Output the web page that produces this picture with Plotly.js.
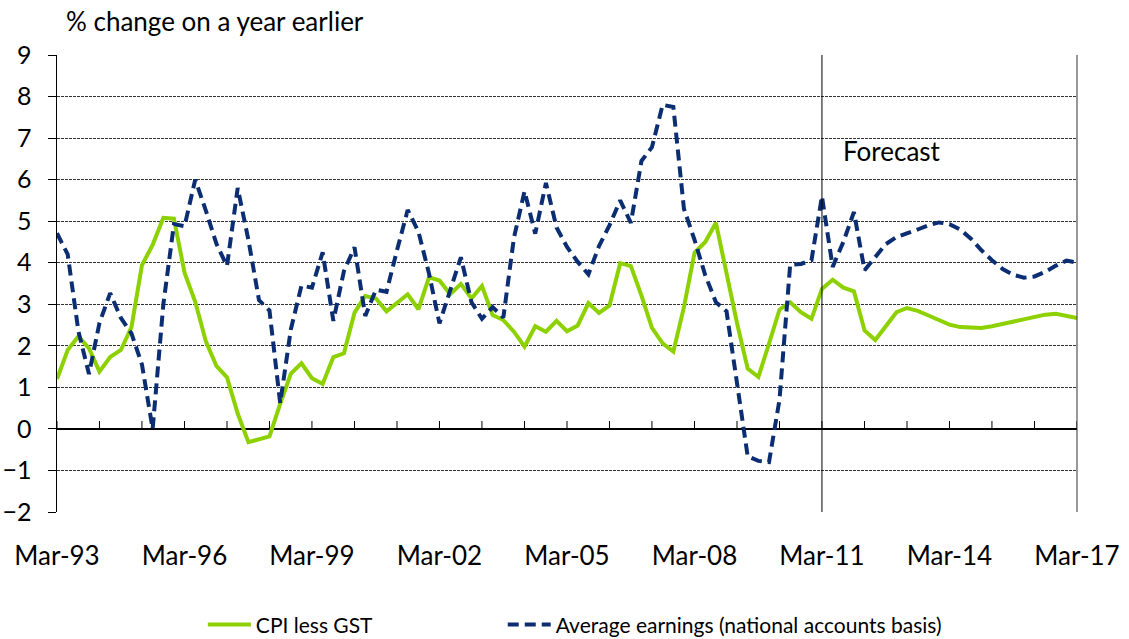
<!DOCTYPE html>
<html>
<head>
<meta charset="utf-8">
<script src="https://cdn.plot.ly/plotly-3.0.1.min.js"></script>
<style>
  html, body { margin: 0; padding: 0; background: #ffffff; }
  #chart { width: 1129px; height: 639px; }
</style>
</head>
<body>
<div id="chart"></div>
<script>
// ---- Data (quarterly, Mar-93 .. Mar-17), % change on a year earlier ----
var firstYear = 1993;
var firstMonth = 3;
var quarterCount = 97;

var cpiLessGst = [
  1.2, 1.9, 2.23, 1.94, 1.38, 1.73, 1.9, 2.45, 3.94, 4.43,
  5.08, 5.06, 3.76, 3.06, 2.1, 1.51, 1.24, 0.37, -0.32, -0.24,
  -0.18, 0.6, 1.33, 1.58, 1.22, 1.08, 1.73, 1.82, 2.8, 3.2,
  3.14, 2.83, 3.03, 3.24, 2.88, 3.65, 3.57, 3.24, 3.49, 3.14,
  3.44, 2.74, 2.62, 2.34, 1.98, 2.47, 2.34, 2.6, 2.35, 2.49,
  3.03, 2.79, 2.97, 3.99, 3.92, 3.21, 2.43, 2.06, 1.86, 2.93,
  4.24, 4.5, 4.96, 3.75, 2.55, 1.45, 1.25, 2.05, 2.87, 3.05,
  2.81, 2.65, 3.37, 3.59, 3.4, 3.31, 2.37, 2.14, 2.49, 2.81,
  2.91, 2.84, 2.73, 2.61, 2.51, 2.45, 2.43, 2.43, 2.47, 2.53,
  2.59, 2.64, 2.71, 2.75, 2.77, 2.73, 2.67
];

var averageEarnings = [
  4.71, 4.2, 2.35, 1.32, 2.55, 3.27, 2.67, 2.3, 1.55, 0.0,
  3.0, 4.93, 4.88, 6.0, 5.25, 4.45, 3.92, 5.8, 4.55, 3.1,
  2.85, 0.62, 2.4, 3.45, 3.4, 4.25, 2.6, 3.8, 4.37, 2.72,
  3.35, 3.3, 4.3, 5.27, 4.75, 3.74, 2.54, 3.34, 4.13, 3.05,
  2.65, 2.93, 2.68, 4.6, 5.72, 4.7, 5.92, 4.85, 4.38, 4.02,
  3.72, 4.4, 4.9, 5.5, 4.96, 6.45, 6.78, 7.8, 7.75, 5.3,
  4.55, 3.7, 3.05, 2.83, 1.05, -0.66, -0.77, -0.8, 0.7, 3.95,
  3.97, 4.06, 5.6, 3.9, 4.5, 5.22, 3.82, 4.14, 4.45, 4.62,
  4.7, 4.8, 4.9, 4.97, 4.93, 4.8, 4.58, 4.3, 4.06, 3.85,
  3.71, 3.64, 3.67, 3.78, 3.93, 4.05, 4.0
];

var seriesNames = ["CPI less GST", "Average earnings (national accounts basis)"];
var yTitleText = "% change on a year earlier";
var forecastLabel = "Forecast";
var forecastStart = "2011-03-01";
var xStart = "1993-03-01";
var xEnd = "2017-03-01";
var yMin = -2, yMax = 9;

// quarter dates
var quarters = [];
for (var i = 0; i < quarterCount; i++) {
  var m = firstMonth - 1 + 3 * i;
  var y = firstYear + Math.floor(m / 12);
  var mm = (m % 12) + 1;
  quarters.push(y + "-" + (mm < 10 ? "0" + mm : mm) + "-01");
}

var FONT = "Lato, 'Open Sans', sans-serif";

var traces = [
  {
    type: "scatter", mode: "lines", name: seriesNames[0],
    x: quarters, y: cpiLessGst,
    line: { color: "#8DD100", width: 4 },
    legend: "legend",
    hoverinfo: "x+y"
  },
  {
    type: "scatter", mode: "lines", name: seriesNames[1],
    x: quarters.slice(0, averageEarnings.length), y: averageEarnings,
    line: { color: "#0B2D72", width: 4, dash: "11px,6px" },
    legend: "legend2",
    hoverinfo: "x+y"
  }
];

// yearly tick marks drawn upward from the zero line (as in the original chart)
var tickShapes = [];
var startYear = firstYear, endYear = 2017;
for (var yr = startYear; yr <= endYear; yr++) {
  var d = yr + "-03-01";
  tickShapes.push({
    type: "line", xref: "x", yref: "y",
    x0: d, x1: d, y0: 0, y1: 0.19,
    line: { color: "#000000", width: 1 }, layer: "above"
  });
}

var legendCommon = {
  orientation: "h",
  xanchor: "left",
  yref: "container", y: 0.022, yanchor: "middle",
  font: { family: FONT, size: 21, color: "#000000" },
  bgcolor: "rgba(0,0,0,0)",
  itemwidth: 43
};

var layout = {
  width: 1129, height: 639,
  margin: { l: 57, r: 52, t: 55, b: 127 },
  paper_bgcolor: "#ffffff",
  plot_bgcolor: "#ffffff",
  font: { family: FONT, size: 26, color: "#000000" },
  showlegend: true,
  legend: Object.assign({}, legendCommon, { x: 0.143 }),
  legend2: Object.assign({}, legendCommon, { x: 0.437 }),
  xaxis: {
    type: "date",
    range: [xStart, xEnd],
    tick0: xStart, dtick: "M36",
    tickformat: "%b-%y",
    ticks: "", showgrid: false, zeroline: false, showline: false,
    ticklabelstandoff: 26,
    automargin: false,
    tickfont: { family: FONT, size: 26, color: "#000000" },
    fixedrange: true
  },
  yaxis: {
    range: [yMin, yMax],
    dtick: 1, tick0: 0,
    ticks: "outside", ticklen: 8, tickwidth: 1, tickcolor: "#000000",
    showline: true, linecolor: "#000000", linewidth: 1.5, mirror: false,
    showgrid: true, gridcolor: "#333333", gridwidth: 1, griddash: "3px,1px",
    zeroline: true, zerolinecolor: "#000000", zerolinewidth: 1.5,
    ticklabelstandoff: 11,
    automargin: false,
    tickfont: { family: FONT, size: 25, color: "#000000" },
    fixedrange: true
  },
  shapes: [
    {
      type: "line", xref: "x", yref: "paper",
      x0: forecastStart, x1: forecastStart, y0: 0, y1: 1,
      line: { color: "#000000", width: 1 }
    },
    {
      type: "line", xref: "paper", yref: "paper",
      x0: 1, x1: 1, y0: 0, y1: 1,
      line: { color: "#333333", width: 1 }
    }
  ].concat(tickShapes),
  annotations: [
    {
      text: yTitleText, xref: "paper", yref: "paper",
      x: 0.0068, y: 1.074, xanchor: "left", yanchor: "middle",
      showarrow: false,
      font: { family: FONT, size: 26, color: "#000000" }
    },
    {
      text: forecastLabel, xref: "x", yref: "y",
      x: forecastStart, y: 6.7, xanchor: "left", yanchor: "middle",
      xshift: 19, showarrow: false,
      font: { family: FONT, size: 26, color: "#000000" }
    }
  ]
};

Plotly.newPlot("chart", traces, layout, { staticPlot: true, displayModeBar: false });
</script>
</body>
</html>
